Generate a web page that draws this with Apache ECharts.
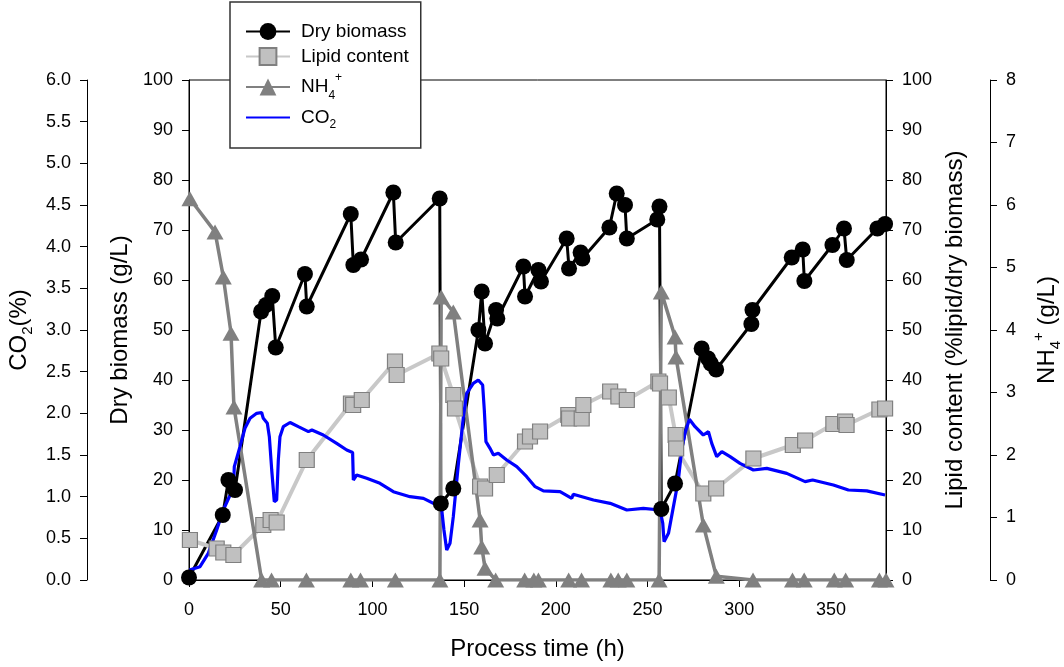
<!DOCTYPE html>
<html>
<head>
<meta charset="utf-8">
<script src="https://cdn.jsdelivr.net/npm/echarts@6/dist/echarts.min.js"></script>
<style>
  html, body { margin: 0; padding: 0; background: #fff; }
  #chart { width: 1064px; height: 667px; }
</style>
</head>
<body>
<div id="chart"></div>
<script>
// Fed-batch cultivation: dry biomass, lipid content, NH4+ and off-gas CO2 over process time

// Dry biomass (g/L)
const biomassTime = [0, 18.4, 21.5, 25.1, 39.3, 42, 45.4, 47.3, 63.2, 64.2, 88.2, 89.6, 93.8, 111.4, 112.7, 136.7,
  137.3, 144.1, 157.8, 159.6, 161.4, 167.4, 168.1, 182.3, 183.2, 190.5, 191.9, 205.9, 207.2, 213.5, 214.5, 229.2, 233.2, 237.7, 238.7, 255.3, 256.5,
  257.5, 265, 279.5, 283, 284.5, 287.4, 306.6, 307.2, 328.6, 334.6, 335.5, 350.8, 357.1, 358.6, 375.3, 379.5];
const biomassValue = [0.5, 13, 20, 18, 53.7, 55, 56.8, 46.5, 61.2, 54.7, 73.2, 63, 64.1, 77.5, 67.5, 76.3,
  15.3, 18.3, 50, 57.7, 47.3, 54, 52.3, 62.7, 56.7, 62, 59.7, 68.3, 62.3, 65.5, 64.3, 70.5, 77.3, 75, 68.3, 72.1, 74.7,
  14.2, 19.3, 46.3, 44.3, 43.3, 42.1, 51.2, 54, 64.5, 66.1, 59.8, 67, 70.3, 64, 70.3, 71.2];

// Lipid content (% lipid / dry biomass)
const lipidTime = [0.5, 15.1, 18.7, 24.2, 40.5, 44.5, 47.8, 64.2, 88.3, 89.5, 94.2, 112.3, 113.2, 136.5, 137.5,
  144.1, 145, 158.7, 161.4, 167.8, 183.2, 185.9, 191.4, 206.8, 207.2, 214.1, 215, 229.6, 234.1, 238.7, 255.9, 256.8,
  261.6, 265.3, 265.6, 280.4, 287.4, 307.7, 329.2, 335.9, 351.3, 357.7, 358.5, 376.4, 379.5];
const lipidValue = [8, 6.3, 5.5, 5.0, 11, 12, 11.5, 24, 35.3, 35.0, 36, 43.7, 41, 45.3, 44.3,
  37, 34.3, 18.7, 18.3, 21, 27.7, 28.7, 29.7, 33, 32.3, 32.3, 35, 37.7, 36.7, 36, 39.7, 39.3,
  36.5, 29, 26.3, 17.3, 18.3, 24.3, 27, 27.9, 31.2, 31.7, 31, 34.1, 34.3];

// Ammonium (g/L)
const nh4Time = [0.5, 14.2, 18.7, 22.9, 24.5, 39.6, 45, 64, 88.2, 93.5, 112.5, 136.8, 137.5, 144.1, 158.7, 159.6, 161.4,
  167.2, 183, 188, 190.5, 207, 214, 230, 234, 238.7, 256.3, 257.5, 265, 265.5, 280.4, 287.5, 307.5, 329, 335.4, 351.8, 358, 376.4, 380];
const nh4Value = [6.1, 5.57, 4.85, 3.95, 2.77, 0, 0, 0, 0, 0, 0, 0, 4.53, 4.29, 0.96, 0.53, 0.19,
  0, 0, 0, 0, 0, 0, 0, 0, 0, 0, 4.61, 3.89, 3.57, 0.88, 0.06, 0, 0, 0, 0, 0, 0, 0];

// Off-gas CO2 (%)
const co2Time = [0.2, 6, 10.5, 15.1, 18.7, 22.4, 24.2, 24.7, 27.8, 30.5, 33.3, 36.9, 39.6, 40.5, 42.7, 43.8, 45.1, 46.5, 47.8,
  48.7, 49.6, 51.4, 55.1, 59.6, 65.1, 67, 73.2, 80.5, 86, 89.2, 89.6, 91.4, 96.9, 104.1, 111.4, 120.5, 127.8, 135.1, 137.8,
  139, 140.5, 142.3, 144.1, 146.9, 149.6, 151.4, 155, 157.7, 160.1, 161, 161.9, 164.1, 166, 168.6, 173.2, 178.7, 184.1,
  188.7, 193.2, 202.3, 208.7, 209.5, 220.5, 229.6, 238.7, 247.7, 256.8, 258.3, 259, 261.4, 264.1, 266.8, 268.6, 270.4,
  272.8, 275.9, 280.4, 283.2, 285, 287.7, 290.5, 295, 300.4, 307.7, 315, 325.9, 335.9, 340, 351.3, 359.5, 369.5, 379.5];
const co2Value = [0.12, 0.16, 0.32, 0.6, 0.84, 1.02, 1.08, 1.36, 1.6, 1.82, 1.94, 2.0, 2.01, 1.94, 1.88, 1.72, 1.32, 0.94, 0.96,
  1.44, 1.72, 1.84, 1.89, 1.84, 1.78, 1.8, 1.74, 1.64, 1.56, 1.53, 1.2, 1.26, 1.22, 1.16, 1.06, 1.0, 0.98, 0.9, 0.84,
  0.6, 0.36, 0.44, 0.76, 1.4, 1.96, 2.24, 2.36, 2.4, 2.34, 2.04, 1.66, 1.58, 1.5, 1.52, 1.44, 1.36, 1.24,
  1.12, 1.07, 1.06, 0.98, 1.03, 0.96, 0.92, 0.84, 0.86, 0.84, 0.68, 0.46, 0.56, 0.88, 1.2, 1.56, 1.76,
  1.93, 1.84, 1.74, 1.78, 1.64, 1.48, 1.54, 1.48, 1.4, 1.32, 1.34, 1.28, 1.18, 1.2, 1.14, 1.08, 1.07, 1.02];

const FONT = '"Liberation Sans", Arial, Helvetica, sans-serif';

function pairs(xs, ys) { return xs.map((x, i) => [x, ys[i]]); }

// Rich text styles for sub- and superscripts
const legendRich = {
  n: { fontSize: 19, fontFamily: FONT, color: '#000' },
  t: { fontSize: 19, lineHeight: 27, fontFamily: FONT, color: '#000' },
  u: { fontSize: 19, lineHeight: 30, fontFamily: FONT, color: '#000' },
  sub: { fontSize: 12, verticalAlign: 'bottom', fontFamily: FONT, color: '#000' },
  sup: { fontSize: 12, verticalAlign: 'top', fontFamily: FONT, color: '#000' }
};
const nameRich = {
  n: { fontSize: 24, lineHeight: 32, fontFamily: FONT, color: '#000' },
  sub: { fontSize: 15, verticalAlign: 'bottom', fontFamily: FONT, color: '#000' },
  sup: { fontSize: 15, verticalAlign: 'top', fontFamily: FONT, color: '#000' }
};
const legendLabels = {
  'Dry biomass': '{n|Dry biomass}',
  'Lipid content': '{n|Lipid content}',
  'NH4+': '{u|NH}{sub|4}{sup|+}',
  'CO2': '{t|CO}{sub|2}'
};

const axisBase = {
  type: 'value',
  axisLine: { show: true, lineStyle: { color: '#000', width: 1 } },
  axisTick: { show: true, length: 7, lineStyle: { color: '#000', width: 1 } },
  axisLabel: { color: '#000', fontSize: 18, fontFamily: FONT, margin: 16 },
  splitLine: { show: false },
  nameLocation: 'middle',
  nameRotate: 90,
  nameTextStyle: { fontSize: 24, fontFamily: FONT, color: '#000', rich: nameRich }
};

const chart = echarts.init(document.getElementById('chart'), null, { renderer: 'canvas' });

chart.setOption({
  animation: false,
  backgroundColor: '#fff',
  textStyle: { fontFamily: FONT },
  grid: {
    left: 189, right: 178, top: 80, bottom: 87,
    outerBoundsMode: 'none',
    containLabel: false,
    show: true, borderColor: '#000', borderWidth: 1, backgroundColor: 'transparent'
  },
  legend: {
    orient: 'vertical',
    left: 230, top: 2,
    padding: [20, 12, 17, 15],
    itemGap: 6,
    itemWidth: 44,
    itemHeight: 21,
    backgroundColor: '#fff',
    borderColor: '#333',
    borderWidth: 1.5,
    data: ['Dry biomass', 'Lipid content', 'NH4+', { name: 'CO2', itemStyle: { opacity: 0 } }],
    formatter: name => legendLabels[name],
    textStyle: { fontSize: 19, fontFamily: FONT, color: '#000', padding: [0, 0, 0, 6], rich: legendRich }
  },
  xAxis: {
    type: 'value',
    min: 0, max: 380, interval: 50,
    axisLine: { show: true, lineStyle: { color: '#000', width: 1 } },
    axisTick: { show: true, length: 7, lineStyle: { color: '#000' } },
    axisLabel: { color: '#000', fontSize: 18, fontFamily: FONT, margin: 21, showMaxLabel: false },
    splitLine: { show: false },
    name: 'Process time (h)',
    nameLocation: 'middle',
    nameGap: 57,
    nameTextStyle: { fontSize: 24, fontFamily: FONT, color: '#000' }
  },
  yAxis: [
    Object.assign({}, axisBase, {
      position: 'left', min: 0, max: 100, interval: 10,
      name: '{n|Dry biomass (g/L)}', nameGap: 45
    }),
    Object.assign({}, axisBase, {
      position: 'left', offset: 102, min: 0, max: 6, interval: 0.5,
      axisLabel: Object.assign({}, axisBase.axisLabel, { formatter: v => v.toFixed(1) }),
      name: '{n|CO}{sub|2}{n|(%)}', nameGap: 50
    }),
    Object.assign({}, axisBase, {
      position: 'right', min: 0, max: 100, interval: 10,
      name: '{n|Lipid content (%lipid/dry biomass)}', nameGap: 50
    }),
    Object.assign({}, axisBase, {
      position: 'right', offset: 104, min: 0, max: 8, interval: 1,
      name: '{n|NH}{sub|4}{sup|+}{n| (g/L)}', nameGap: 41
    })
  ],
  series: [
    {
      name: 'Dry biomass', type: 'line', yAxisIndex: 0,
      data: pairs(biomassTime, biomassValue),
      symbol: 'circle', symbolSize: 16,
      lineStyle: { color: '#000', width: 3 },
      itemStyle: { color: '#000' },
      emphasis: { disabled: true }
    },
    {
      name: 'Lipid content', type: 'line', yAxisIndex: 2,
      data: pairs(lipidTime, lipidValue),
      symbol: 'rect', symbolSize: 15,
      lineStyle: { color: '#c8c8c8', width: 4 },
      itemStyle: { color: '#c0c0c0', borderColor: '#808080', borderWidth: 1.2 },
      emphasis: { disabled: true }
    },
    {
      name: 'NH4+', type: 'line', yAxisIndex: 3,
      data: pairs(nh4Time, nh4Value),
      symbol: 'triangle', symbolSize: [17, 15],
      lineStyle: { color: '#808080', width: 3.5 },
      itemStyle: { color: '#808080' },
      emphasis: { disabled: true }
    },
    {
      name: 'CO2', type: 'line', yAxisIndex: 1,
      data: pairs(co2Time, co2Value),
      symbol: 'none',
      lineStyle: { color: '#0000ff', width: 3.2 },
      itemStyle: { color: '#0000ff' },
      emphasis: { disabled: true }
    }
  ]
});
</script>
</body>
</html>
